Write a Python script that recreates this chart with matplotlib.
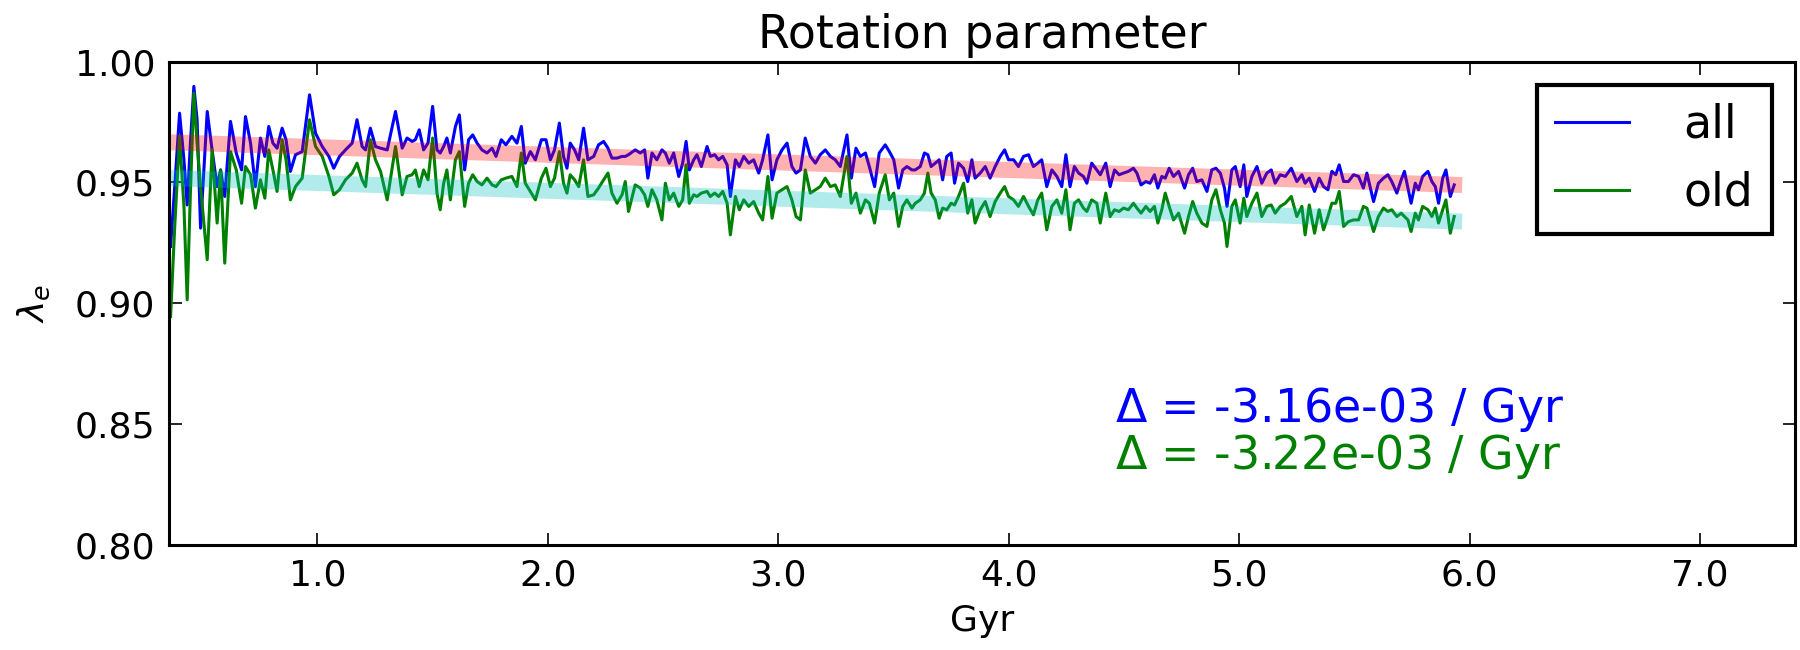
import numpy as np
import matplotlib
matplotlib.use("Agg")
import matplotlib.pyplot as plt

# ------------------------------------------
# Data
# ------------------------------------------
gyr = [
    0.363, 0.381, 0.402, 0.421, 0.435, 0.449, 0.464, 0.478, 0.493, 0.522,
    0.543, 0.565, 0.580, 0.598, 0.623, 0.648, 0.671, 0.688, 0.710, 0.731,
    0.753, 0.772, 0.789, 0.807, 0.825, 0.847, 0.864, 0.883, 0.905, 0.934,
    0.966, 0.992, 1.021, 1.050, 1.071, 1.096, 1.122, 1.151, 1.172, 1.194,
    1.209, 1.230, 1.252, 1.274, 1.303, 1.339, 1.368, 1.389, 1.411,
    # 1.4 - 2.5
    1.425, 1.442, 1.461, 1.480, 1.500, 1.519, 1.533, 1.548, 1.562, 1.577,
    1.599, 1.616, 1.639, 1.656, 1.674, 1.693, 1.714, 1.736, 1.758, 1.775,
    1.798, 1.818, 1.844, 1.866, 1.885, 1.902, 1.924, 1.946, 1.972, 1.992,
    2.011, 2.029, 2.050, 2.068, 2.083, 2.097, 2.116, 2.134, 2.155, 2.174,
    2.199, 2.220, 2.242, 2.261, 2.278, 2.300, 2.322, 2.336, 2.350, 2.379,
    2.401, 2.420, 2.434, 2.452, 2.473, 2.495,
    # 2.5 - 3.6
    2.510, 2.527, 2.546, 2.568, 2.585, 2.600, 2.614, 2.633, 2.647, 2.666,
    2.691, 2.705, 2.724, 2.741, 2.759, 2.778, 2.792, 2.814, 2.831, 2.850,
    2.872, 2.893, 2.915, 2.932, 2.955, 2.973, 2.994, 3.016, 3.038, 3.059,
    3.077, 3.096, 3.117, 3.139, 3.161, 3.182, 3.204, 3.226, 3.247, 3.269,
    3.298, 3.317, 3.337, 3.356, 3.378, 3.395, 3.418, 3.438, 3.464, 3.482,
    3.501, 3.522, 3.540, 3.558, 3.580,
    # 3.6 - 4.7
    3.594, 3.616, 3.634, 3.649, 3.663, 3.681, 3.698, 3.713, 3.731, 3.750,
    3.765, 3.782, 3.804, 3.822, 3.840, 3.854, 3.876, 3.898, 3.919, 3.941,
    3.963, 3.982, 3.999, 4.021, 4.042, 4.064, 4.086, 4.107, 4.126, 4.143,
    4.165, 4.187, 4.209, 4.230, 4.248, 4.266, 4.285, 4.303, 4.324, 4.339,
    4.360, 4.382, 4.397, 4.421, 4.440, 4.459, 4.479, 4.498, 4.519, 4.541,
    4.556, 4.574, 4.595, 4.613, 4.632, 4.647, 4.664,
    # 4.7 - 5.9
    4.679, 4.696, 4.715, 4.737, 4.763, 4.780, 4.798, 4.816, 4.838, 4.860,
    4.881, 4.899, 4.918, 4.936, 4.947, 4.968, 4.983, 5.004, 5.020, 5.033,
    5.055, 5.077, 5.098, 5.120, 5.139, 5.156, 5.178, 5.200, 5.226, 5.250,
    5.272, 5.286, 5.304, 5.327, 5.347, 5.366, 5.385, 5.402, 5.419, 5.434,
    5.453, 5.474, 5.496, 5.518, 5.539, 5.554, 5.583, 5.604, 5.626, 5.645,
    5.662, 5.684, 5.703, 5.717, 5.732, 5.746,
    5.764, 5.778, 5.796, 5.819, 5.836, 5.851, 5.865, 5.883, 5.897, 5.916,
    5.933,
]

lam_all = [
    0.9235, 0.9483, 0.9787, 0.9594, 0.9407, 0.9663, 0.9898, 0.9760, 0.9311, 0.9794,
    0.9635, 0.9483, 0.9552, 0.9442, 0.9753, 0.9622, 0.9552, 0.9773, 0.9663, 0.9483,
    0.9684, 0.9608, 0.9732, 0.9663, 0.9642, 0.9725, 0.9677, 0.9546, 0.9615, 0.9628,
    0.9863, 0.9704, 0.9649, 0.9608, 0.9559, 0.9608, 0.9635, 0.9663, 0.9760, 0.9649,
    0.9635, 0.9725, 0.9649, 0.9642, 0.9635, 0.9794, 0.9642, 0.9684, 0.9670,
    0.9677, 0.9718, 0.9635, 0.9663, 0.9815, 0.9635, 0.9622, 0.9649, 0.9684, 0.9622,
    0.9732, 0.9780, 0.9552, 0.9677, 0.9697, 0.9663, 0.9635, 0.9622, 0.9642, 0.9608,
    0.9677, 0.9656, 0.9691, 0.9663, 0.9732, 0.9580, 0.9628, 0.9594, 0.9677, 0.9677,
    0.9594, 0.9635, 0.9746, 0.9608, 0.9559, 0.9663, 0.9635, 0.9594, 0.9725, 0.9594,
    0.9608, 0.9656, 0.9670, 0.9642, 0.9601, 0.9601, 0.9608, 0.9608, 0.9615, 0.9635,
    0.9622, 0.9635, 0.9518, 0.9622, 0.9594, 0.9635,
    0.9622, 0.9580, 0.9622, 0.9525, 0.9580, 0.9670, 0.9552, 0.9594, 0.9615, 0.9566,
    0.9649, 0.9608, 0.9615, 0.9594, 0.9608, 0.9573, 0.9442, 0.9594, 0.9566, 0.9608,
    0.9580, 0.9594, 0.9539, 0.9594, 0.9697, 0.9511, 0.9594, 0.9635, 0.9663, 0.9566,
    0.9539, 0.9552, 0.9684, 0.9608, 0.9580, 0.9615, 0.9635, 0.9608, 0.9594, 0.9566,
    0.9697, 0.9518, 0.9642, 0.9608, 0.9622, 0.9566, 0.9483, 0.9622, 0.9656, 0.9628,
    0.9594, 0.9477, 0.9552, 0.9566, 0.9552,
    0.9552, 0.9566, 0.9622, 0.9615, 0.9566, 0.9580, 0.9594, 0.9511, 0.9608, 0.9622,
    0.9497, 0.9580, 0.9559, 0.9504, 0.9594, 0.9518, 0.9539, 0.9566, 0.9518, 0.9566,
    0.9608, 0.9635, 0.9594, 0.9594, 0.9566, 0.9608, 0.9615, 0.9566, 0.9580, 0.9594,
    0.9483, 0.9552, 0.9525, 0.9483, 0.9615, 0.9483, 0.9566, 0.9539, 0.9525, 0.9497,
    0.9580, 0.9552, 0.9532, 0.9580, 0.9483, 0.9552, 0.9532, 0.9539, 0.9546, 0.9559,
    0.9539, 0.9490, 0.9504, 0.9497, 0.9532, 0.9477, 0.9525,
    0.9518, 0.9559, 0.9525, 0.9546, 0.9477, 0.9532, 0.9559, 0.9504, 0.9511, 0.9463,
    0.9552, 0.9559, 0.9539, 0.9477, 0.9401, 0.9552, 0.9566, 0.9483, 0.9573, 0.9442,
    0.9525, 0.9566, 0.9497, 0.9539, 0.9552, 0.9497, 0.9532, 0.9525, 0.9559, 0.9504,
    0.9532, 0.9497, 0.9518, 0.9463, 0.9518, 0.9483, 0.9470, 0.9546, 0.9532, 0.9573,
    0.9504, 0.9504, 0.9532, 0.9525, 0.9477, 0.9539, 0.9421, 0.9497, 0.9518, 0.9532,
    0.9504, 0.9456, 0.9511, 0.9546, 0.9477, 0.9414,
    0.9497, 0.9470, 0.9525, 0.9546, 0.9504, 0.9483, 0.9414, 0.9518, 0.9552, 0.9442,
    0.9490,
]

lam_old = [
    0.8945, 0.9318, 0.9691, 0.9401, 0.9014, 0.9456, 0.9870, 0.9663, 0.9483, 0.9180,
    0.9635, 0.9332, 0.9552, 0.9166, 0.9628, 0.9552, 0.9414, 0.9566, 0.9532, 0.9394,
    0.9511, 0.9435, 0.9635, 0.9552, 0.9463, 0.9677, 0.9594, 0.9428, 0.9483, 0.9518,
    0.9760, 0.9649, 0.9608, 0.9525, 0.9449, 0.9470, 0.9511, 0.9539, 0.9580, 0.9511,
    0.9483, 0.9677, 0.9594, 0.9546, 0.9428, 0.9649, 0.9449, 0.9525, 0.9532,
    0.9552, 0.9483, 0.9552, 0.9511, 0.9684, 0.9456, 0.9387, 0.9497, 0.9552, 0.9428,
    0.9594, 0.9628, 0.9401, 0.9497, 0.9532, 0.9504, 0.9490, 0.9518, 0.9490, 0.9483,
    0.9511, 0.9518, 0.9525, 0.9483, 0.9622, 0.9497, 0.9463, 0.9428, 0.9518, 0.9559,
    0.9483, 0.9518, 0.9628, 0.9497, 0.9456, 0.9532, 0.9511, 0.9483, 0.9594, 0.9442,
    0.9449, 0.9477, 0.9511, 0.9539, 0.9456, 0.9414, 0.9449, 0.9504, 0.9380, 0.9490,
    0.9477, 0.9449, 0.9401, 0.9470, 0.9428, 0.9345,
    0.9497, 0.9428, 0.9456, 0.9401, 0.9428, 0.9573, 0.9414, 0.9449, 0.9442, 0.9456,
    0.9463, 0.9442, 0.9456, 0.9442, 0.9463, 0.9414, 0.9283, 0.9442, 0.9387, 0.9428,
    0.9401, 0.9421, 0.9373, 0.9345, 0.9525, 0.9352, 0.9456, 0.9470, 0.9483, 0.9428,
    0.9359, 0.9345, 0.9552, 0.9456, 0.9470, 0.9483, 0.9518, 0.9483, 0.9490, 0.9442,
    0.9608, 0.9414, 0.9456, 0.9373, 0.9428, 0.9414, 0.9332, 0.9456, 0.9532, 0.9428,
    0.9456, 0.9318, 0.9401, 0.9428, 0.9394,
    0.9414, 0.9428, 0.9456, 0.9539, 0.9456, 0.9428, 0.9352, 0.9394, 0.9387, 0.9414,
    0.9407, 0.9442, 0.9497, 0.9373, 0.9428, 0.9332, 0.9387, 0.9421, 0.9359, 0.9421,
    0.9456, 0.9483, 0.9442, 0.9428, 0.9401, 0.9442, 0.9401, 0.9366, 0.9428, 0.9456,
    0.9304, 0.9401, 0.9428, 0.9373, 0.9470, 0.9304, 0.9414, 0.9428, 0.9394, 0.9380,
    0.9428, 0.9414, 0.9332, 0.9456, 0.9359, 0.9387, 0.9380, 0.9394, 0.9387, 0.9414,
    0.9394, 0.9373, 0.9401, 0.9380, 0.9401, 0.9332, 0.9387,
    0.9456, 0.9401, 0.9345, 0.9373, 0.9290, 0.9359, 0.9421, 0.9373, 0.9332, 0.9318,
    0.9428, 0.9470, 0.9387, 0.9332, 0.9235, 0.9401, 0.9428, 0.9332, 0.9435, 0.9359,
    0.9414, 0.9456, 0.9359, 0.9401, 0.9407, 0.9373, 0.9401, 0.9414, 0.9442, 0.9359,
    0.9401, 0.9283, 0.9407, 0.9290, 0.9387, 0.9304, 0.9359, 0.9414, 0.9414, 0.9463,
    0.9318, 0.9338, 0.9345, 0.9345, 0.9401, 0.9394, 0.9297, 0.9359, 0.9394, 0.9380,
    0.9387, 0.9359, 0.9373, 0.9359, 0.9345, 0.9297,
    0.9373, 0.9345, 0.9401, 0.9387, 0.9359, 0.9394, 0.9332, 0.9387, 0.9428, 0.9290,
    0.9359,
]

# linear fits (slope per Gyr, intercept)
fit_all = [-3.16e-3, 0.9678]
fit_old = [-3.22e-3, 0.9530]

labels = ["all", "old"]

# ------------------------------------------
# Plot
# ------------------------------------------
x = np.array(gyr)

fig = plt.figure(figsize=(18, 6.5), dpi=100)
ax = fig.add_axes([0.094, 0.162, 0.903, 0.743])

ax.plot(x, lam_all, color='b', linewidth=2.2, label=labels[0])
ax.plot(x, lam_old, color='g', linewidth=2.2, label=labels[1])
ax.plot(x, np.polyval(fit_all, x), color='r', linewidth=11.5, alpha=0.3)
ax.plot(x, np.polyval(fit_old, x), color='c', linewidth=11.5, alpha=0.3)

ax.text(4.46, 0.851, r"$\Delta$ = %.2e / Gyr" % fit_all[0], color='b', fontsize=33)
ax.text(4.46, 0.8315, r"$\Delta$ = %.2e / Gyr" % fit_old[0], color='g', fontsize=33)

ax.set_xlim(0.357, 7.41)
ax.set_ylim(0.80, 1.00)
ax.set_xticks([1, 2, 3, 4, 5, 6, 7])
ax.set_xticklabels(["1.0", "2.0", "3.0", "4.0", "5.0", "6.0", "7.0"])
ax.set_yticks([0.80, 0.85, 0.90, 0.95, 1.00])
ax.set_yticklabels(["0.80", "0.85", "0.90", "0.95", "1.00"])
ax.tick_params(direction='in', length=9, width=1.2, top=True, right=True,
               labelsize=26, pad=10)
for s in ax.spines.values():
    s.set_linewidth(2.2)

ax.set_title("Rotation parameter", fontsize=33, pad=10)
ax.set_xlabel("Gyr", fontsize=26, labelpad=8)
ax.set_ylabel(r"$\lambda_e$", fontsize=26, labelpad=16)

leg = ax.legend(loc='upper right', fontsize=33, fancybox=False, framealpha=1,
                handlelength=1.6, handletextpad=1.2, borderaxespad=0.5)
leg.get_frame().set_edgecolor('black')
leg.get_frame().set_linewidth(3)

plt.savefig('out.png', dpi=100)
